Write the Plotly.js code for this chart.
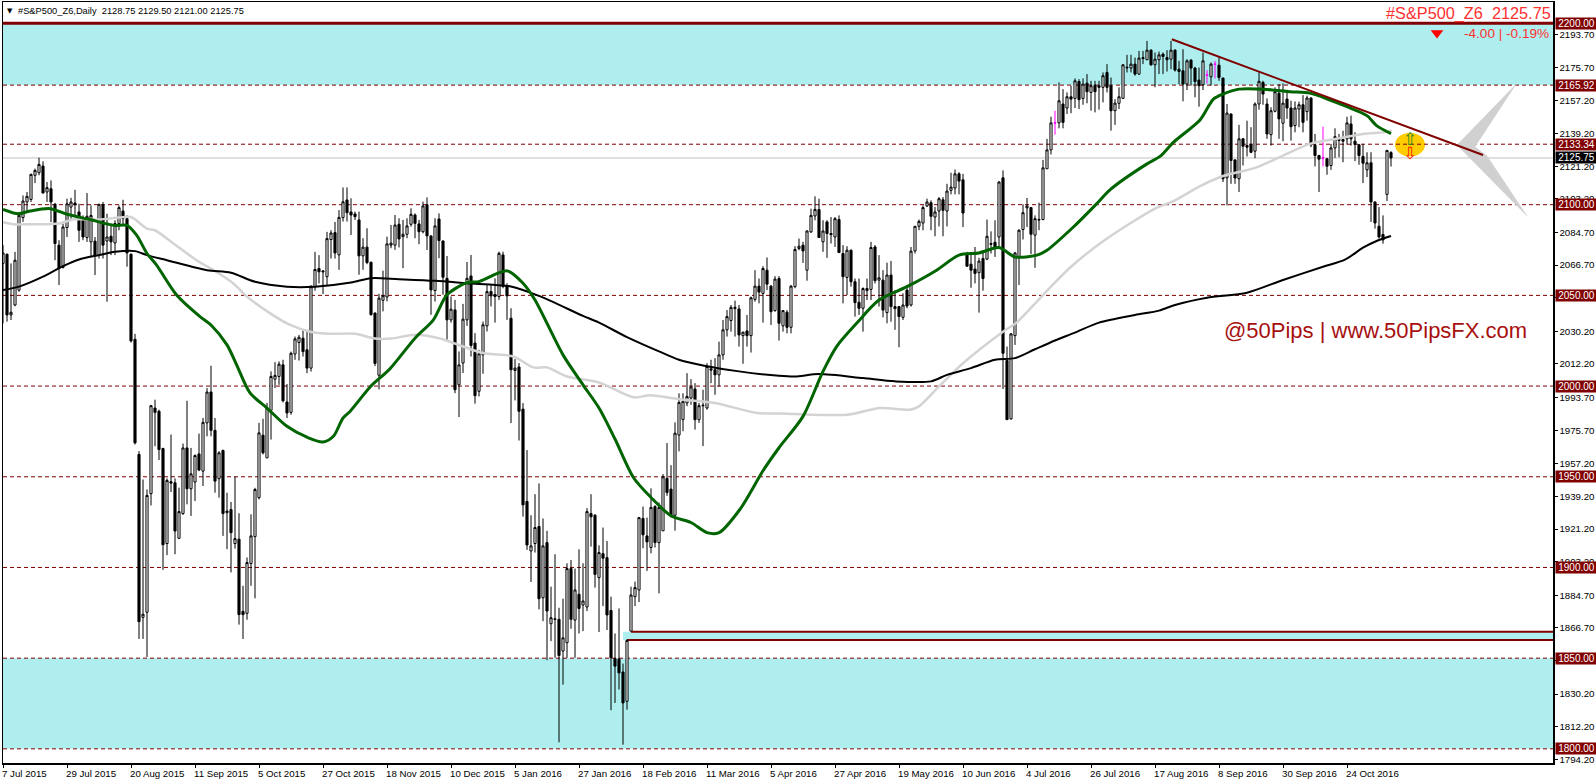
<!DOCTYPE html>
<html><head><meta charset="utf-8">
<script src="https://cdn.plot.ly/plotly-3.0.1.min.js"></script>
<style>html,body{margin:0;padding:0;background:#fff;overflow:hidden}</style>
</head><body><div id="chart" style="width:1596px;height:784px"></div>
<script>
const opens=[
2067.6,2072.7,2039.2,2044.7,2052.9,2092.9,2101.5,2102.9,2116.2,2117.6,
2121.3,2107,2108.8,2100.2,2077.7,2065.4,2087.4,2098.7,2100.9,2096,
2091.8,2081.9,2079.5,2079.9,2072.2,2100,2080,2082.6,2078.9,2089.6,
2096.5,2092.3,2072.7,2025.8,1962.3,1872.5,1875.3,1940.7,1987.9,1986.1,
1965.6,1913.2,1947.3,1946.7,1916.1,1929.7,1965.9,1943.4,1947.1,1962.6,
1953.1,1979.7,1996.7,1975.6,1948.9,1964.5,1930.2,1931.9,1913.2,1915.6,
1875.8,1874.7,1902.2,1917,1938.5,1972.9,1960.4,1986.6,2003.8,2005.3,
2011.7,1991.2,1985.5,2017.7,2024,2026.4,2020,2009.9,2054.8,2064.8,
2063.5,2060.3,2080.8,2084.6,2072.3,2092.9,2102.6,2096,2094.9,2091.6,
2071.8,2076.6,2068.3,2040.3,2006,2047.3,2049.1,2077.7,2077.7,2089.2,
2082.4,2083.7,2089.2,2094.3,2089.4,2085.1,2100,2082.8,2052.7,2092.1,
2080,2059.4,2036.5,2042,2000.7,2012.7,2036.5,2060.7,2023.7,1997.1,
2017.2,2033.2,2052.1,2050.5,2049.4,2072.3,2054.9,2037.4,2008.6,2010.5,
1987.3,1936.4,1909.1,1913.2,1922.6,1883.3,1913.7,1869,1871.7,1871.4,
1853.9,1858.5,1899.4,1871,1885.2,1879.3,1878.2,1929.7,1928.8,1894.4,
1907.6,1905.4,1876.3,1849.8,1849.6,1842.4,1826.2,1864.9,1883.9,1887.6,
1927,1917.4,1911,1933.6,1913.7,1920.2,1949.1,1943.2,1928.8,1973,
1981.5,1990.7,1993.4,1998.4,1981.5,1989.5,1987.9,2009.5,2009,2006.2,
2017.2,2031,2036.1,2042.7,2042.5,2027.8,2030.4,2027.8,2047.8,2055.1,
2051.1,2063.9,2055.1,2041.6,2059.3,2033.2,2040.7,2032.4,2054.8,2075.8,
2077.7,2063.9,2085,2093.8,2097.3,2079.5,2090.5,2084.1,2082.2,2091.8,
2073.1,2059.9,2074.9,2057.5,2046.2,2042.9,2052.6,2053.3,2076.7,2058.4,
2058.4,2040.5,2061.2,2043.8,2043.8,2037.9,2052.9,2044.7,2074.5,2088.1,
2089.9,2099.3,2101.1,2093.2,2096.5,2102.7,2096.5,2107.9,2109.2,2117,
2113.7,2072.2,2067.2,2064.5,2062.5,2070.3,2070,2078.6,2079.3,2082.2,
2114.8,2014.1,1981.9,2027.8,2071.2,2086.3,2098.2,2098.4,2083.2,2091.9,
2091.8,2119.8,2130.2,2145.2,2145.1,2155.5,2153.3,2159.5,2158.6,2167.9,
2158.6,2167,2161.9,2165.9,2165.6,2164.7,2172.9,2165.6,2151.8,2155.9,
2158.6,2175.8,2175.3,2177.5,2172,2181.1,2179.9,2185.2,2177.1,2179.9,
2183,2181.1,2180.2,2185.2,2174.7,2173.8,2166.5,2179.7,2175.3,2168.7,
2166.1,2171.6,2170.5,2177.6,2176.9,2169.8,2114.8,2150,2124.7,2114.3,
2136.3,2132.6,2133.2,2129.5,2155.5,2167.4,2155.5,2138.6,2151.5,2161.5,
2144.9,2158.2,2153.3,2143.6,2152.7,2155.1,2151.3,2158.8,2133,2127.1,
2125.9,2125.3,2121.6,2131.3,2136.3,2135.9,2136.3,2144.5,2135,2133,
2126.6,2119.2,2123.1,2101.5,2088.1,2083.6,2105.7,2128.75];
const highs=[
2077.7,2073,2067.6,2074,2096,2105.1,2107,2117.1,2119.9,2125.9,
2123.9,2112.5,2113.4,2101,2080.4,2089.6,2103.3,2103.8,2108.2,2100.5,
2094.1,2106.4,2099.6,2082.2,2100.5,2101.5,2095,2089.6,2091.4,2099.6,
2102.7,2094.1,2073,2028.8,1964.1,1948.5,1943,1989.5,1992.5,1987,
1966,1949.1,1973.3,1949.1,1944,1968.3,1991.9,1965.9,1962.3,1973.8,
1982.4,1998.9,2011.2,1982.4,1964.1,1965,1941.2,1936.1,1950,1929.9,
1889.9,1905.5,1929.3,1943.9,1979.7,1982,1990.7,2008.1,2013.2,2013.6,
2014.5,2001.1,2019,2027.3,2028.2,2031,2031,2055.7,2074,2072.2,
2064,2085,2085.9,2090.5,2097,2109.5,2109.5,2103.5,2096.2,2096.2,
2081.5,2087,2068.5,2040.5,2050.9,2063.6,2082.4,2088.8,2094.3,2092.5,
2091.6,2092.5,2098,2095.2,2091.6,2101.7,2104,2083,2092.5,2095.2,
2080.2,2071.7,2049.4,2047.5,2019.1,2045.3,2068.4,2072.3,2029.2,2020,
2035.6,2055.8,2055.8,2059.4,2074.1,2074.1,2056.7,2042.9,2014.9,2012.7,
1990.6,1964.7,1928.8,1940.4,1946.3,1927,1920.2,1889.4,1907.3,1877.8,
1882.8,1902.3,1904.1,1899.4,1910,1902.3,1932.7,1940.4,1929.4,1912.2,
1922,1914.6,1883.9,1863.6,1877.4,1847,1860.3,1889.4,1892.2,1927.5,
1933.6,1927.5,1943.6,1934.3,1935.8,1951.5,1968.6,1956.4,1980,1996,
1996,2007.1,2003.8,2001.6,1990.7,1998,2012.6,2014.5,2015.4,2024.5,
2036.4,2041.9,2044.7,2047.1,2044.7,2030,2039.2,2049.3,2063.9,2059.3,
2066.1,2070.9,2055.7,2060.6,2060.6,2041.9,2041.9,2055.7,2077.1,2081.3,
2079.5,2085.9,2097.8,2104.6,2103.3,2091.4,2091.4,2093.2,2093.2,2094.1,
2077.7,2077.1,2075.3,2059.3,2059.3,2054.4,2059.3,2079.5,2077.7,2072.2,
2063.9,2068,2069,2052.9,2044.1,2051.1,2055.7,2076.7,2088.2,2091.8,
2099.6,2103.3,2102.4,2098.7,2104.2,2104.2,2111.5,2117.6,2119.4,2117.9,
2117,2074,2072.7,2076.7,2070.7,2074.9,2091.8,2085.3,2091.4,2113,
2118.9,2021.8,2029.1,2074,2086.5,2100.2,2103.7,2098.7,2094.1,2101.1,
2124.7,2136.3,2148.5,2151.8,2167.4,2163.7,2161.9,2165.6,2169.6,2169.2,
2169.6,2172,2168.3,2168.3,2168.3,2172.9,2177.5,2170.1,2158.2,2164.7,
2177.5,2182.6,2182.6,2181.1,2184.8,2184.8,2190.3,2185.7,2183.9,2184.4,
2183.9,2185.2,2190.3,2185.7,2179.3,2185.7,2180.2,2180.2,2176,2175.6,
2183.9,2174.2,2178.4,2179.3,2181.5,2170,2155.5,2150.2,2125,2144,
2136.8,2146.3,2142.7,2156.4,2172.9,2168.3,2158.6,2153.7,2164.7,2166.5,
2166.8,2161.9,2157.3,2156.9,2156.8,2160.4,2160.1,2159.2,2139,2127.5,
2143,2125.8,2133.5,2142.1,2139,2140.8,2148.5,2149.1,2139.9,2133.5,
2133.5,2128.9,2128.9,2101.8,2098.7,2094.1,2130.2,2129.5];
const lows=[
2034.6,2035.5,2036.4,2044,2052,2090.5,2096,2101.5,2111.9,2116.2,
2106.4,2101.5,2090.4,2069.4,2055.7,2064.8,2082.2,2092.3,2093.2,2079.5,
2080.4,2079.5,2071.2,2061.2,2070.3,2070.3,2046.5,2072.2,2072.2,2085.9,
2088.6,2065.8,2024,1967.8,1860.6,1860.6,1850.6,1934.2,1966.8,1959.2,
1898.7,1906.8,1941.6,1907.3,1915.6,1929,1934.8,1928.4,1936.6,1953.1,
1944.9,1972.3,1972.3,1941.2,1938.5,1917.4,1910.1,1897.3,1910.4,1868.5,
1860.6,1871.2,1889.9,1883,1937.5,1962.3,1960.4,1970.5,1998.9,2000.7,
1991,1982.4,1984.2,2014.5,2014.1,2016.3,2007.1,2008,2052.6,2056.6,
2050.7,2055.1,2070.3,2070.3,2064.1,2090.7,2090.7,2083.3,2091.6,2061.4,
2064.1,2067.2,2038.8,2011,1998.2,2041.2,2046.7,2076,2075.1,2076.4,
2065,2081.5,2087.9,2081.5,2078.2,2084.2,2075,2039.3,2046.6,2070.5,
2050.3,2025.5,2035,1996.1,1982.9,2007.2,2033.2,2016.3,1990.3,1994.3,
2006.8,2030.1,2043.9,2035,2047.5,2053.9,2036.5,1979.6,1992.1,1970,
1928,1909.7,1892,1908.2,1876.9,1870.4,1848.9,1859.4,1850.2,1803.6,
1835.4,1850.2,1866.2,1850.2,1863.6,1864.9,1876,1911.5,1888.9,1864.4,
1878.7,1865.5,1821.3,1825.3,1832.7,1802.3,1821.6,1864.9,1878.7,1880.9,
1910.6,1898.1,1907.8,1911,1885.7,1920.2,1939.5,1927.5,1920.3,1964,
1975.1,1988.9,1989.7,1976,1979.7,1966.9,1987,2001.6,1995.2,1999.8,
2014.5,2027.3,2030,2027.3,2021.8,2012.3,2021.8,2018.5,2046.5,2045.6,
2035,2052.9,2033.7,2041,2025.1,2030,2029.1,2029.1,2053.9,2074.9,
2067.9,2058.1,2084.4,2091.4,2081.9,2074,2070.7,2078.6,2076.7,2073.6,
2045.6,2050.2,2054.8,2038.3,2039.2,2030,2047.4,2047.4,2056.6,2043.8,
2037.9,2034.6,2035.5,2031,2021.4,2036.4,2042.9,2043.8,2073.1,2085.9,
2085.9,2098.7,2085.9,2082.6,2088,2082.6,2088,2105.7,2105.7,2105.7,
2087.7,2065.8,2054.2,2056.6,2040.5,2052.6,2069.4,2073.1,2071.2,2076.7,
1998.4,1981.5,1981.5,2022.7,2055.7,2080.8,2087.7,2072.7,2065.2,2085.9,
2091.4,2119.8,2127.7,2138.6,2142.1,2142.1,2150,2150.4,2153.3,2152.7,
2155.1,2155.9,2151.8,2150.9,2152.4,2156.4,2161.9,2140.8,2144,2152.7,
2158.6,2172.9,2172.9,2171.1,2171.6,2177.5,2179.7,2176.6,2164.7,2172,
2172,2173.4,2174.7,2173.4,2166.5,2157,2163.2,2165.6,2159.2,2154,
2163.2,2166.8,2165.6,2169.6,2168.3,2112.5,2099.6,2111.5,2111.5,2107,
2121.6,2126.6,2128.4,2125.6,2152.4,2155.1,2136.3,2132.6,2150.9,2136.3,
2135,2147.3,2135.3,2139.9,2142.7,2139.9,2146.3,2131.7,2121.1,2107,
2121.1,2116.5,2119.2,2125.8,2126.2,2123.4,2133.2,2132.6,2124,2122,
2111.9,2115.2,2090.5,2086.8,2081.3,2078.5,2102,2121];
const closes=[
2073.4,2039.2,2040.7,2069.4,2094.1,2102,2104.6,2116.7,2118.9,2122.2,
2106.4,2109.4,2101.5,2078.6,2064.8,2087.7,2100.5,2101.5,2100,2085.9,
2082.2,2093.6,2094.1,2072.2,2100.2,2077.7,2082.2,2079.5,2089.6,2098.4,
2092.3,2073.4,2024.9,1968.7,1870.1,1874.2,1939.7,1989.2,1985.5,1965,
1912.5,1948,1946.5,1920.1,1930.8,1965.9,1943.4,1951.6,1961.7,1953.7,
1980,1996.7,1975.6,1947.6,1963.2,1929.7,1931.1,1919.2,1915.9,1874,
1874,1902.7,1917.4,1943,1974.2,1963.2,1987.9,2005.3,2005.9,2012.1,
1991.9,1985.2,2018.1,2026,2026.9,2019,2009.9,2054.8,2064.3,2063,
2063,2081.3,2084.4,2073.4,2093,2101.6,2095.6,2094.3,2093.4,2071.8,
2076.6,2068.1,2039.4,2012.5,2048.5,2049.8,2078.4,2078.8,2088.8,2081.1,
2083.7,2088.3,2094.7,2089.7,2085.1,2099.3,2082.8,2053,2088.3,2080.2,
2060,2036.5,2042.4,1998,2011.7,2036.9,2059.4,2022.4,1994.7,2017.8,
2033.8,2052.1,2049.7,2049.4,2073.2,2054.9,2049.7,2009,2009.9,1986.1,
1934.5,1912.4,1911.9,1922,1882.8,1911.9,1876,1872.3,1871.4,1851.5,
1861.2,1899.4,1871.4,1887.6,1877.4,1881.5,1930.8,1927.9,1896.2,1908.2,
1905.1,1873.8,1850.2,1845.6,1841.9,1825.3,1859.8,1884.8,1888.9,1927.5,
1918,1914.1,1933.1,1913.7,1933.1,1950,1941.3,1928.8,1974,1991,
1991.6,1994.3,1999.5,1981.5,1989.2,1989.2,2010.8,2008.8,2006.2,2017.2,
2031,2038.3,2043.4,2043.4,2028.2,2029.7,2027.8,2048.7,2055.1,2051.8,
2064.8,2056.2,2041,2059,2034.6,2041.6,2032.4,2055.1,2075.3,2077.1,
2074.5,2085.5,2094.1,2097.4,2081.9,2085.5,2084.1,2083.5,2092.3,2073.6,
2060.3,2074.9,2057.5,2046,2042.9,2053.8,2053.8,2076.4,2058.1,2059.7,
2041.9,2061.2,2043.8,2042.7,2038.3,2044.7,2044.1,2074.4,2088.1,2090.8,
2098.4,2101.5,2093.6,2096,2103.3,2096.9,2107.5,2109.7,2117,2113,
2095.4,2066.1,2063.9,2062.1,2068.9,2059.3,2082.6,2078.2,2076.7,2112.5,
2018.1,1981.5,2028.8,2073.4,2085.9,2095.6,2099.3,2083.7,2092.3,2091.6,
2120.3,2130.2,2145.1,2145,2157.3,2145.4,2159.5,2158.2,2168.3,2157.9,
2166.5,2162.3,2165.6,2162.3,2164.7,2171.1,2164.7,2151.8,2156,2159.5,
2177.1,2175.5,2177.5,2172,2180.8,2180.6,2185.2,2177.1,2180.2,2182.6,
2181.7,2179.9,2185.2,2174.2,2173.4,2166.5,2179.3,2175.3,2167.9,2165.6,
2179.3,2171.4,2177.5,2177.4,2170.1,2114.3,2150.5,2124.4,2114.7,2136.3,
2132.2,2131.7,2128.9,2155.5,2168,2161,2139,2151.8,2162.3,2147.3,
2156,2153.3,2143,2153.3,2155.1,2145.4,2158.8,2133,2127.1,2125.1,
2125.7,2121.2,2131.3,2137.5,2135.4,2135,2145.1,2136.3,2133.2,2127.1,
2122.9,2123.1,2101.5,2089.9,2082.2,2080.6,2129.9,2125.75];
const magentaBars=[263,301,303,330];

const ma200X=[0,4,10,15,19,24,28,33,36,41,51,57,63,71,78,87,92,99,108,116,127,134,145,149,156,164,169,175,184,194,198,204,215,223,232,236,242,248,253,258,263,268,274,283,289,293,301,311,320,330,335.5,340,343.4,347];
const ma200Y=[2052.9,2054.8,2060.3,2066.1,2069.8,2072.2,2074,2074.4,2072.2,2069.4,2063.9,2062.5,2057.5,2054.8,2054.8,2057.1,2059.5,2058.9,2058,2056.7,2054.9,2049.7,2038.7,2035,2027,2019.1,2014.5,2011.4,2008.1,2005.7,2005.3,2006.6,2004.4,2002.6,2002.6,2006.2,2009.9,2014.5,2015.4,2020.3,2025.1,2029.5,2035,2039.2,2041.6,2044.7,2048.7,2051.5,2058.5,2065.8,2069.7,2076.3,2080,2082.7];
const ma100X=[0,2.6,7,14,17.6,24,29,32,36,38,42.6,48.4,54,57.6,61,66.8,71.8,76.8,81.8,88,93,97,103,109,120,127.6,132.6,136,141,149,157.6,161.8,170,178,188.5,196,211,219.25,226.75,229,234,240,250,253.4,260,267,276,288,293,298.8,305,313,320,326.75,333.4,340,346.75,347];
const ma100Y=[2090.3,2089.2,2089.2,2089.6,2091.9,2091.8,2092.9,2093.2,2086.8,2085.9,2078.6,2069.4,2062.1,2056.6,2049.3,2040.1,2033.7,2030,2028.8,2028.9,2026.2,2026.2,2028.3,2026.4,2018.2,2016.3,2010.3,2010.3,2005.3,2002,1993.8,1994.9,1992.5,1990.7,1985.2,1984.8,1984.2,1987.9,1987,1988.8,1999.8,2012.6,2030,2035,2050.2,2065.8,2081.3,2097.8,2102.4,2109.7,2115.8,2120.3,2127.1,2133.5,2136.3,2139,2140.5,2141.4];
const ma50X=[0,3.8,6.75,11.75,16,21.75,27.6,31,33.4,36,38.4,43.4,49.25,52,56,58.4,61.75,66,71,76,80,82.6,85,86.75,92,96.6,103,107.6,111,116,119,126,130,133,140,145,149,153,157.6,162,167,172,176,179,184.25,190,194,200,205,208.4,213.4,219,226,233.4,239,244,249,253,258.5,261,267.6,273.4,276.75,286,289.25,292.6,299.25,302.6,305,309,315,321.75,326.75,331.75,336,341,343.4,347];
const ma50Y=[2097.4,2095,2096.5,2097.8,2094.7,2091.8,2088.6,2088.6,2083.2,2073.1,2066.7,2050.2,2038.3,2033.7,2022.7,2011.7,1996.2,1987.9,1977.8,1971.8,1969.2,1972.3,1982.4,1986,2000,2009.2,2026.4,2036.5,2050.3,2057,2057.6,2063.5,2056.7,2047.5,2017.2,2000.7,1987.9,1970.8,1949.6,1938.6,1928.5,1924.8,1919.2,1919.2,1932.1,1953.3,1966,1983.3,2008.1,2021.8,2034.6,2047.4,2054.8,2063.9,2072.2,2073.4,2076.4,2071.2,2072.2,2074.9,2087.7,2100.5,2108.2,2122.5,2126.6,2134.4,2146.7,2158.2,2161,2163.7,2163.7,2162.3,2161.5,2157.7,2154,2149.1,2143.6,2139.2];
const trendX=[292.2,370];
const trendY=[2191.2,2127.4];
const chevronX=[378.25,363.5,381,371,368,378.25];
const chevronY=[2166.4,2132.9,2093.8,2126.8,2132,2166.4];
const dashedLevels=[2165.92,2133.34,2100,2050,2000,1950,1900,1850,1800];
const boxedLabels=[2200,2165.92,2133.34,2100,2050,2000,1950,1900,1850,1800];
const yTicks=[2193.7,2175.7,2157.2,2139.2,2121.2,2103.2,2084.7,2066.7,2048.7,2030.2,2012.2,1993.7,1975.7,1957.2,1939.2,1921.2,1903.2,1884.7,1866.7,1848.7,1830.2,1812.2,1794.2];
const xTickIdx=[0,16,32,48,64,80,96,112,128,144,160,176,192,208,224,240,256,272,288,304,320,336];
const xTickLabels=['7 Jul 2015','29 Jul 2015','20 Aug 2015','11 Sep 2015','5 Oct 2015','27 Oct 2015','18 Nov 2015','10 Dec 2015','5 Jan 2016','27 Jan 2016','18 Feb 2016','11 Mar 2016','5 Apr 2016','27 Apr 2016','19 May 2016','10 Jun 2016','4 Jul 2016','26 Jul 2016','17 Aug 2016','8 Sep 2016','30 Sep 2016','24 Oct 2016'];
const lastPrice=2125.75;

const XMAX=387.5, DARK='#800000', CYAN='#afeeee', FONT='"Liberation Sans", Arial, sans-serif';
const idx=opens.map((_,i)=>i);
const mainIdx=idx.filter(i=>!magentaBars.includes(i));
const pick=(a,ids)=>ids.map(i=>a[i]);
function candle(ids,up,upFill,down,downFill){
  return {type:'candlestick',x:ids,open:pick(opens,ids),high:pick(highs,ids),low:pick(lows,ids),close:pick(closes,ids),
    whiskerwidth:0,hoverinfo:'skip',showlegend:false,
    increasing:{line:{color:up,width:1},fillcolor:upFill},
    decreasing:{line:{color:down,width:1},fillcolor:downFill}};
}
function line(x,y,color,width,smooth){return {type:'scatter',mode:'lines',x,y,line:{color,width,shape:smooth?'spline':'linear',smoothing:smooth?0.8:0},hoverinfo:'skip',showlegend:false};}
const traces=[
  {type:'scatter',mode:'lines',x:chevronX,y:chevronY,fill:'toself',fillcolor:'#d0d0d0',line:{color:'#d0d0d0',width:0.5},hoverinfo:'skip',showlegend:false},
  candle(mainIdx,'#000','#fff','#000','#000'),
  candle(magentaBars,'#ff00ff','#ff00ff','#ff00ff','#ff00ff'),
  line(ma100X,ma100Y,'#d3d3d3',2.5,true),
  line(ma200X,ma200Y,'#000000',2,true),
  line(ma50X,ma50Y,'#006400',3,true),
  line(trendX,trendY,DARK,2,false),
  {type:'scatter',mode:'markers',x:[358.5],y:[2194.6],marker:{symbol:'triangle-down',size:11,color:'#ff0000'},hoverinfo:'skip',showlegend:false}
];
const shapes=[
  {type:'rect',xref:'x',yref:'y',x0:0,x1:XMAX,y0:2165.92,y1:2200,fillcolor:CYAN,line:{width:0},layer:'below'},
  {type:'rect',xref:'x',yref:'y',x0:0,x1:XMAX,y0:1800,y1:1850,fillcolor:CYAN,line:{width:0},layer:'below'},
  {type:'rect',xref:'x',yref:'y',x0:155,x1:XMAX,y0:1860,y1:1864.6,fillcolor:CYAN,line:{width:0},layer:'below'},
  {type:'circle',xref:'x',yref:'y',x0:348,x1:355.5,y0:2126.5,y1:2139.7,fillcolor:'#ffcc00',line:{width:0},layer:'below'},
  {type:'line',xref:'x',yref:'y',x0:0,x1:XMAX,y0:lastPrice,y1:lastPrice,line:{color:'#c0c0c0',width:1},layer:'below'},
  {type:'line',xref:'x',yref:'y',x0:0,x1:XMAX,y0:2200,y1:2200,line:{color:DARK,width:3},layer:'below'},
  {type:'line',xref:'x',yref:'y',x0:157,x1:XMAX,y0:1864.6,y1:1864.6,line:{color:DARK,width:2},layer:'below'},
  {type:'line',xref:'x',yref:'y',x0:156,x1:XMAX,y0:1860,y1:1860,line:{color:DARK,width:2},layer:'below'}
].concat(dashedLevels.map(v=>({type:'line',xref:'x',yref:'y',x0:0,x1:XMAX,y0:v,y1:v,line:{color:DARK,width:1,dash:'4px,3px'},layer:'below'})));
function priceBox(v,bg){
  return {xref:'paper',yref:'y',x:1,y:v,xanchor:'left',yanchor:'middle',xshift:2,text:v.toFixed(2),showarrow:false,
    width:41,height:11,bgcolor:bg,borderpad:0,align:'center',font:{family:FONT,size:10,color:'#fff'}};
}
const annotations=[
  ...boxedLabels.map(v=>priceBox(v,DARK)),
  priceBox(lastPrice,'#000'),
  ...xTickIdx.map((t,k)=>({xref:'x',yref:'paper',x:t,y:0,xanchor:'left',yanchor:'top',yshift:-3,xshift:-3,text:xTickLabels[k],showarrow:false,font:{family:FONT,size:9.7,color:'#000'}})),
  {xref:'paper',yref:'paper',x:0,y:1,xanchor:'left',yanchor:'top',xshift:13,yshift:-2,text:'#S&amp;P500_Z6,Daily&nbsp;&nbsp;2128.75 2129.50 2121.00 2125.75',showarrow:false,font:{family:FONT,size:9.3,color:'#000'}},
  {xref:'paper',yref:'paper',x:0,y:1,xanchor:'left',yanchor:'top',xshift:2,yshift:-3,text:'▼',showarrow:false,font:{family:'DejaVu Sans',size:7,color:'#000'}},
  {xref:'paper',yref:'paper',x:1,y:1,xanchor:'right',yanchor:'top',xshift:0,yshift:0,text:'#S&amp;P500_Z6&nbsp;&nbsp;2125.75',showarrow:false,font:{family:FONT,size:16.3,color:'#ff3030'}},
  {xref:'paper',yref:'paper',x:1,y:1,xanchor:'right',yanchor:'top',xshift:-2,yshift:-22,text:'-4.00 | -0.19%',showarrow:false,font:{family:FONT,size:13.6,color:'#ff3030'}},
  {xref:'x',yref:'y',x:304.8,y:2030.4,xanchor:'left',yanchor:'middle',text:'@50Pips | www.50PipsFX.com',showarrow:false,font:{family:FONT,size:22,color:'#a81010'}},
  {xref:'x',yref:'y',x:351.8,y:2136.3,xanchor:'center',yanchor:'middle',text:'⇧',showarrow:false,font:{family:'DejaVu Sans',size:17,color:'#228b22'}},
  {xref:'x',yref:'y',x:351.8,y:2128.5,xanchor:'center',yanchor:'middle',text:'⇩',showarrow:false,font:{family:'DejaVu Sans',size:17,color:'#ff2000'}}
];
const layout={
  width:1596,height:784,autosize:false,paper_bgcolor:'#fff',plot_bgcolor:'#fff',showlegend:false,
  margin:{l:3,r:43,t:2,b:21,pad:0},boxmode:'overlay',boxgap:0.25,
  xaxis:{type:'linear',range:[0,XMAX],rangeslider:{visible:false},showgrid:false,zeroline:false,showline:true,mirror:true,linecolor:'#000',linewidth:1.5,
    tickmode:'array',tickvals:xTickIdx,ticktext:xTickLabels,ticks:'outside',ticklen:3,tickcolor:'#000',showticklabels:false},
  yaxis:{type:'linear',side:'right',range:[1792.2,2211.74],showgrid:false,zeroline:false,showline:true,mirror:true,linecolor:'#000',linewidth:1.5,
    tickmode:'array',tickvals:yTicks,ticktext:yTicks.map(v=>v.toFixed(2)),ticks:'outside',ticklen:3,tickcolor:'#000',tickfont:{family:FONT,size:9.7,color:'#000'}},
  shapes,annotations
};
Plotly.newPlot('chart',traces,layout,{displayModeBar:false,staticPlot:true});
</script></body></html>
